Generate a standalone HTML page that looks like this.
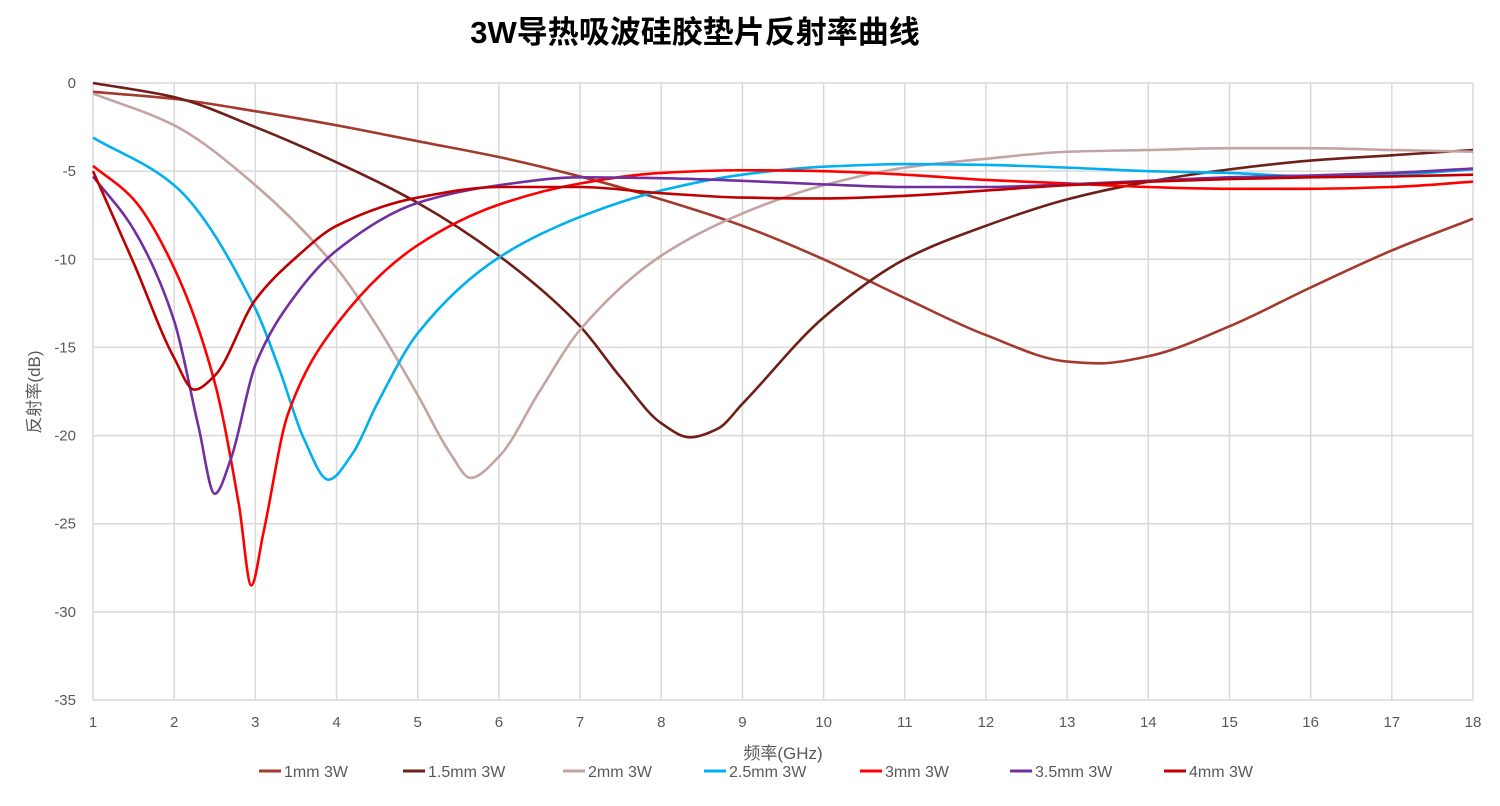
<!DOCTYPE html>
<html><head><meta charset="utf-8">
<style>
body{margin:0;background:#fff;}
svg text{font-family:"Liberation Sans","Noto Sans CJK SC",sans-serif;}
</style></head>
<body>
<svg id="chart" width="1500" height="801" viewBox="0 0 1500 801" xmlns="http://www.w3.org/2000/svg">
<text x="695" y="43" text-anchor="middle" font-size="31" font-weight="bold" fill="#000">3W导热吸波硅胶垫片反射率曲线</text>
<g id="grid"></g>
<g id="ticks"></g>
<g id="series"></g>
<text transform="translate(40,392) rotate(-90)" text-anchor="middle" font-size="17" fill="#595959">反射率(dB)</text>
<text x="783" y="759" text-anchor="middle" font-size="17" fill="#595959">频率(GHz)</text>
<g id="legend"></g>
</svg>
<script>
const xTicks=[1,2,3,4,5,6,7,8,9,10,11,12,13,14,15,16,17,18];
const yTicks=[0,-5,-10,-15,-20,-25,-30,-35];
const names=["1mm 3W","1.5mm 3W","2mm 3W","2.5mm 3W","3mm 3W","3.5mm 3W","4mm 3W"];
const colors=["#a33a2e","#6e2018","#c4a4a2","#00b0f0","#ff0000","#7030a0","#c00000"];
const s1x=[1,2,3,4,5,6,7,8,9,10,11,12,13,13.4,14,15,16,17,18];
const s1y=[-0.5,-0.9,-1.6,-2.4,-3.3,-4.2,-5.3,-6.6,-8.1,-10,-12.2,-14.3,-15.8,-15.9,-15.5,-13.8,-11.6,-9.5,-7.7];
const s2x=[1,2,3,4,5,6,7,7.5,8,8.35,8.7,9,10,11,12,13,14,15,16,17,18];
const s2y=[0,-0.8,-2.5,-4.5,-6.8,-9.8,-13.8,-16.7,-19.3,-20.1,-19.6,-18.2,-13.3,-10,-8.1,-6.6,-5.6,-4.9,-4.4,-4.1,-3.8];
const s3x=[1,2,3,4,4.5,5,5.4,5.65,6,6.5,7,8,9,10,11,12,13,14,15,16,17,18];
const s3y=[-0.6,-2.4,-5.8,-10.5,-13.8,-17.7,-21,-22.4,-21.2,-17.5,-14,-9.8,-7.4,-5.8,-4.8,-4.3,-3.9,-3.8,-3.7,-3.7,-3.8,-3.9];
const s4x=[1,2,3,3.3,3.6,3.9,4.2,4.5,5,6,7,8,9,10,11,12,13,14,15,16,17,18];
const s4y=[-3.1,-5.8,-12.8,-16.3,-20.2,-22.5,-21,-18.2,-14.2,-9.9,-7.6,-6.1,-5.2,-4.75,-4.6,-4.65,-4.8,-5,-5.1,-5.3,-5.2,-4.9];
const s5x=[1,1.5,2,2.5,2.8,2.95,3.1,3.4,4,5,6,7,8,9,10,11,12,13,14,15,16,17,18];
const s5y=[-4.7,-6.6,-10.5,-17,-24,-28.5,-25.5,-18.8,-13.7,-9.2,-6.9,-5.7,-5.1,-4.95,-5,-5.2,-5.5,-5.7,-5.9,-6,-6,-5.9,-5.6];
const s6x=[1,1.5,2,2.3,2.5,2.7,3,3.5,4,5,6,7,8,9,10,11,12,13,14,15,16,17,18];
const s6y=[-5.3,-8.3,-13.5,-19.5,-23.3,-21.3,-16,-12,-9.5,-6.8,-5.8,-5.35,-5.4,-5.55,-5.75,-5.9,-5.9,-5.75,-5.55,-5.35,-5.25,-5.1,-4.85];
const s7x=[1,1.5,2,2.25,2.5,3,3.5,4,5,6,7,8,9,10,11,12,13,14,15,16,17,18];
const s7y=[-5,-10.2,-15.6,-17.4,-16.6,-12.3,-9.9,-8.1,-6.5,-5.9,-5.9,-6.25,-6.5,-6.55,-6.4,-6.1,-5.8,-5.6,-5.45,-5.35,-5.3,-5.2];
const seriesX=[s1x,s2x,s3x,s4x,s5x,s6x,s7x];
const seriesY=[s1y,s2y,s3y,s4y,s5y,s6y,s7y];

const L=93,R=1473,T=83,B=700;
const xs=v=>L+(v-1)/(18-1)*(R-L);
const ys=v=>T+(0-v)/35*(B-T);
const NS="http://www.w3.org/2000/svg";
function mk(t,a,p){const e=document.createElementNS(NS,t);for(const k in a)e.setAttribute(k,a[k]);p.appendChild(e);return e;}
const grid=document.getElementById('grid'),ticks=document.getElementById('ticks'),ser=document.getElementById('series'),leg=document.getElementById('legend');
xTicks.forEach(v=>{const l=mk('line',{x1:xs(v),x2:xs(v),y1:T,y2:B,stroke:'#d9d9d9','stroke-width':1.5},grid);


const t=mk('text',{x:xs(v),y:727,'text-anchor':'middle','font-size':15,fill:'#595959'},ticks);t.textContent=v;

});
yTicks.forEach(v=>{const l=mk('line',{x1:L,x2:R,y1:ys(v),y2:ys(v),stroke:'#d9d9d9','stroke-width':1.5},grid);


const t=mk('text',{x:76,y:ys(v)+5,'text-anchor':'end','font-size':15,fill:'#595959'},ticks);t.textContent=v;

});
function pathD(X,Y){
  const px=X.map(xs),py=Y.map(ys),n=px.length;
  const d=[],m=new Array(n);
  for(let i=0;i<n-1;i++)d.push((py[i+1]-py[i])/(px[i+1]-px[i]));
  m[0]=d[0];m[n-1]=d[n-2];
  for(let i=1;i<n-1;i++){
    if(d[i-1]*d[i]<=0)m[i]=0;
    else{const h0=px[i]-px[i-1],h1=px[i+1]-px[i];const w1=2*h1+h0,w2=h1+2*h0;m[i]=(w1+w2)/(w1/d[i-1]+w2/d[i]);}
  }
  let s='M'+px[0]+','+py[0];
  for(let i=0;i<n-1;i++){const h=(px[i+1]-px[i])/3;
    s+=` C${px[i]+h},${py[i]+m[i]*h} ${px[i+1]-h},${py[i+1]-m[i+1]*h} ${px[i+1]},${py[i+1]}`;}
  return s;}
seriesX.forEach((X,i)=>{const p=mk('path',{d:pathD(X,seriesY[i]),fill:'none',stroke:colors[i],'stroke-width':2.6,'stroke-linejoin':'round'},ser);

});
const lx=[259,398,553,690,842,1050,1138];
lx[5]=1000;
names.forEach((n,i)=>{const g=mk('g',{},leg);


const x0=[259,398,553,690,842,988,1138][i];
const sh=[0,5,10,14,18,22,26][i];
mk('line',{x1:x0+sh,x2:x0+sh+22,y1:771,y2:771,stroke:colors[i],'stroke-width':3},g);
const t=mk('text',{x:x0+sh+25,y:777,'font-size':16,fill:'#595959'},g);t.textContent=n;});
</script>
</body></html>
